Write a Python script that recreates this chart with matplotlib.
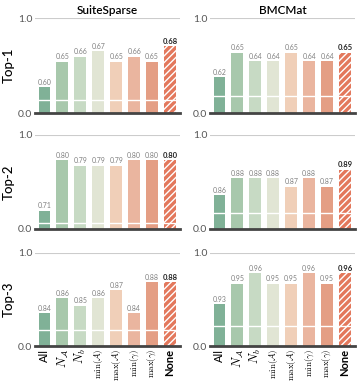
import matplotlib
matplotlib.use("Agg")
import matplotlib.pyplot as plt

plt.rcParams['font.family'] = ['Lato', 'DejaVu Sans']
plt.rcParams['mathtext.fontset'] = 'cm'
plt.rcParams['hatch.color'] = 'white'
plt.rcParams['hatch.linewidth'] = 1.0

methods = ["All", r"$N_{\mathcal{A}}$", r"$N_b$", r"$\min(\mathcal{A})$",
           r"$\max(\mathcal{A})$", r"$\min(\gamma)$", r"$\max(\gamma)$", "None"]
datasets = ["SuiteSparse", "BMCMat"]
rows = ["Top-1", "Top-2", "Top-3"]

suite_top1 = [0.60, 0.65, 0.66, 0.67, 0.65, 0.66, 0.65, 0.68]
suite_top2 = [0.71, 0.80, 0.79, 0.79, 0.79, 0.80, 0.80, 0.80]
suite_top3 = [0.84, 0.86, 0.85, 0.86, 0.87, 0.84, 0.88, 0.88]
bmc_top1 = [0.62, 0.65, 0.64, 0.64, 0.65, 0.64, 0.64, 0.65]
bmc_top2 = [0.86, 0.88, 0.88, 0.88, 0.87, 0.88, 0.87, 0.89]
bmc_top3 = [0.93, 0.95, 0.96, 0.95, 0.95, 0.96, 0.95, 0.96]

# per-panel normalisation range (value shown at 0.0 and at 1.0)
suite_lo = [0.550, 0.677, 0.798]
suite_hi = [0.735, 0.845, 0.918]
bmc_lo = [0.577, 0.820, 0.889]
bmc_hi = [0.692, 0.931, 0.980]

colors = ["#80b197", "#a8c8ac", "#c7dac4", "#e1e5d4",
          "#f0cfb8", "#eab59f", "#e49e84", "#e3785c"]

white_line = [[0.14, 0.18], [0.067, 0.17], [0.17, 0.22]]

data = {"SuiteSparse": [suite_top1, suite_top2, suite_top3],
        "BMCMat": [bmc_top1, bmc_top2, bmc_top3]}
lows = {"SuiteSparse": suite_lo, "BMCMat": bmc_lo}
highs = {"SuiteSparse": suite_hi, "BMCMat": bmc_hi}

fig = plt.figure(figsize=(3.57, 3.88), dpi=100)
H = 388.0
W = 357.0
row_pix = [(18, 113), (135, 229), (253, 346)]
col_pix = [(35, 180), (210, 355)]

x = list(range(len(methods)))
for r in range(3):
    for c, ds in enumerate(datasets):
        top, bot = row_pix[r]
        l, rr = col_pix[c]
        ax = fig.add_axes([l / W, 1 - bot / H, (rr - l) / W, (bot - top) / H])
        vals = data[ds][r]
        lo, hi = lows[ds][r], highs[ds][r]
        disp = [(v - lo) / (hi - lo) for v in vals]
        bars = ax.bar(x, disp, width=0.65, color=colors, zorder=2, linewidth=0)
        bars[-1].set_hatch('/////')
        ax.axhline(1.0, color="#cccccc", lw=0.8, zorder=1)
        ax.axhline(white_line[r][c], color="white", lw=1.0, zorder=3)
        for i, (xi, d, v) in enumerate(zip(x, disp, vals)):
            if i == len(vals) - 1:
                ax.text(xi, d + 0.015, f"{v:.2f}", ha="center", va="bottom",
                        fontsize=5.5, fontweight="bold", color="#222222")
            else:
                ax.text(xi, d + 0.015, f"{v:.2f}", ha="center", va="bottom",
                        fontsize=5.0, color="#808080")
        ax.set_xlim(-0.52, 7.55)
        ax.set_ylim(0, 1.0)
        ax.set_yticks([0.0, 1.0])
        ax.set_yticklabels(["0.0", "1.0"], fontsize=7.5, color="#555555")
        ax.tick_params(axis="y", length=0, pad=2)
        for s in ["top", "right", "left"]:
            ax.spines[s].set_visible(False)
        ax.spines["bottom"].set_linewidth(2.0)
        ax.spines["bottom"].set_color("#444444")
        ax.spines["bottom"].set_zorder(4)
        if r == 2:
            ax.set_xticks(x)
            ax.set_xticklabels(methods, rotation=90)
            for i, lab in enumerate(ax.get_xticklabels()):
                if i in (0, 7):
                    lab.set_fontsize(8)
                    lab.set_fontweight("bold" if i == 7 else "normal")
                elif i in (1, 2):
                    lab.set_fontsize(9)
                else:
                    lab.set_fontsize(6.5)
            ax.tick_params(axis="x", length=0, pad=2)
        else:
            ax.set_xticks([])
        if r == 0:
            ax.set_title(ds, fontsize=8.5, fontweight="semibold", pad=3)
        if c == 0:
            ax.set_ylabel(rows[r], fontsize=9.5, fontweight="medium", labelpad=2)

fig.savefig("out.png", dpi=100)
